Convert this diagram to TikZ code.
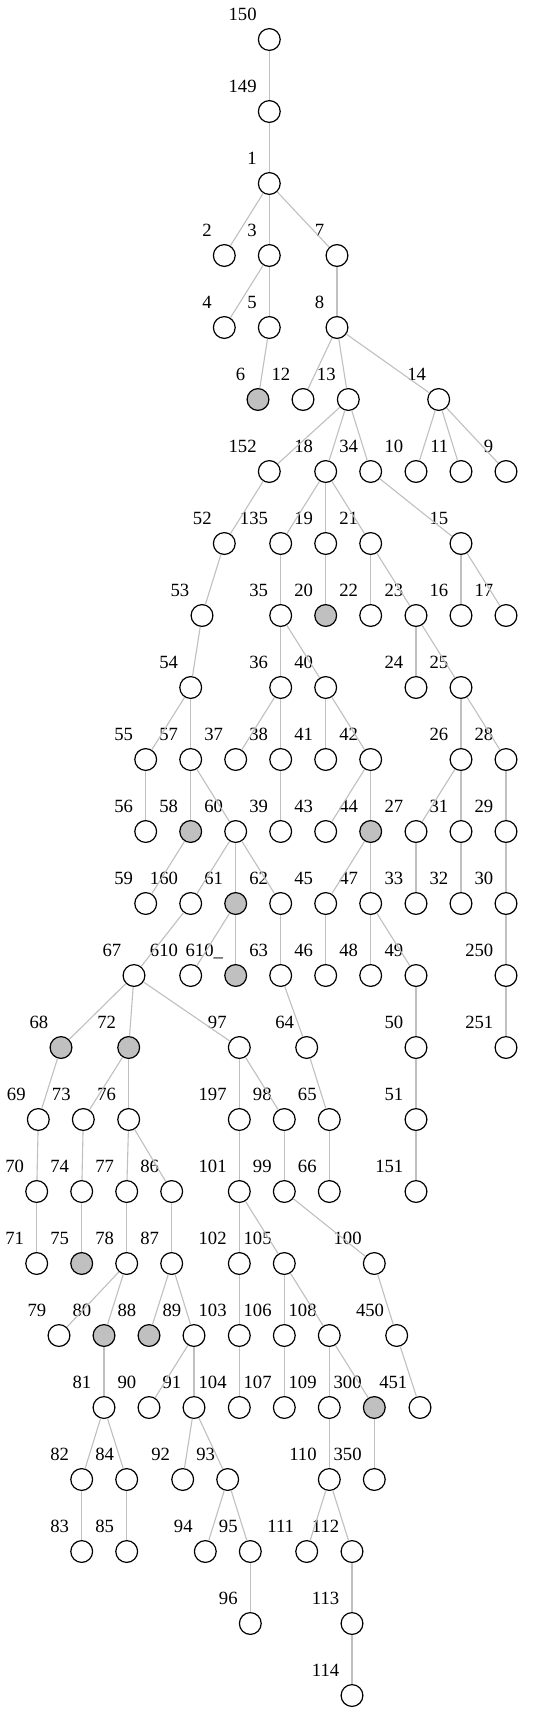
\documentclass[tikz,border=0pt]{standalone}
\usepackage{fontspec}
\setmainfont{Liberation Serif}
\definecolor{edgec}{RGB}{192,192,192}
\definecolor{nodegray}{RGB}{192,192,192}
\tikzset{
  vtx/.style={circle, draw=black, line width=1.2pt, minimum size=21.8pt, inner sep=0pt},
  lbl/.style={anchor=base east, inner sep=0pt, font=\fontsize{18.67}{22}\selectfont},
  edge/.style={draw=edgec, line width=1.1pt}
}
\newcommand\tn[5]{%
  \node[vtx, fill=#5] (n#1) at (#2, {39.5+72*#3}) {};
  \node[lbl] (l#1) at ([xshift=-12.5pt, yshift=18.7pt]n#1.center) {#4};
}
\begin{document}
\begin{tikzpicture}[x=1pt, y=-1pt]
\useasboundingbox[fill=white] (0,0) rectangle (556,1713);
% rows 0-4
\tn{150}{269.3}{0}{150}{white}
\tn{149}{269.3}{1}{149}{white}
\tn{1}{269.3}{2}{1}{white}
\tn{2}{224.3}{3}{2}{white}
\tn{3}{269.3}{3}{3}{white}
\tn{7}{337}{3}{7}{white}
\tn{4}{224.3}{4}{4}{white}
\tn{5}{269.3}{4}{5}{white}
\tn{8}{337}{4}{8}{white}
% row 5
\tn{6}{258}{5}{6}{nodegray}
\tn{12}{303}{5}{12}{white}
\tn{13}{348.3}{5}{13}{white}
\tn{14}{438.7}{5}{14}{white}
% row 6
\tn{152}{269.3}{6}{152}{white}
\tn{18}{325.7}{6}{18}{white}
\tn{34}{370.7}{6}{34}{white}
\tn{10}{416}{6}{10}{white}
\tn{11}{461}{6}{11}{white}
\tn{9}{506}{6}{9}{white}
% row 7
\tn{52}{224.3}{7}{52}{white}
\tn{135}{280.7}{7}{135}{white}
\tn{19}{325.7}{7}{19}{white}
\tn{21}{370.7}{7}{21}{white}
\tn{15}{461}{7}{15}{white}
% row 8
\tn{53}{202}{8}{53}{white}
\tn{35}{280.7}{8}{35}{white}
\tn{20}{325.7}{8}{20}{nodegray}
\tn{22}{370.7}{8}{22}{white}
\tn{23}{416}{8}{23}{white}
\tn{16}{461}{8}{16}{white}
\tn{17}{506}{8}{17}{white}
% row 9
\tn{54}{190.7}{9}{54}{white}
\tn{36}{280.7}{9}{36}{white}
\tn{40}{325.7}{9}{40}{white}
\tn{24}{416}{9}{24}{white}
\tn{25}{461}{9}{25}{white}
% row 10
\tn{55}{145.7}{10}{55}{white}
\tn{57}{190.7}{10}{57}{white}
\tn{37}{235.7}{10}{37}{white}
\tn{38}{280.7}{10}{38}{white}
\tn{41}{325.7}{10}{41}{white}
\tn{42}{370.7}{10}{42}{white}
\tn{26}{461}{10}{26}{white}
\tn{28}{506}{10}{28}{white}
% row 11
\tn{56}{145.7}{11}{56}{white}
\tn{58}{190.7}{11}{58}{nodegray}
\tn{60}{235.7}{11}{60}{white}
\tn{39}{280.7}{11}{39}{white}
\tn{43}{325.7}{11}{43}{white}
\tn{44}{370.7}{11}{44}{nodegray}
\tn{27}{416}{11}{27}{white}
\tn{31}{461}{11}{31}{white}
\tn{29}{506}{11}{29}{white}
% row 12
\tn{59}{145.7}{12}{59}{white}
\tn{160}{190.7}{12}{160}{white}
\tn{61}{235.7}{12}{61}{nodegray}
\tn{62}{280.7}{12}{62}{white}
\tn{45}{325.7}{12}{45}{white}
\tn{47}{370.7}{12}{47}{white}
\tn{33}{416}{12}{33}{white}
\tn{32}{461}{12}{32}{white}
\tn{30}{506}{12}{30}{white}
% row 13
\tn{67}{134}{13}{67}{white}
\tn{610}{190.7}{13}{610}{white}
\tn{610u}{235.7}{13}{610\_}{nodegray}
\tn{63}{280.7}{13}{63}{white}
\tn{46}{325.7}{13}{46}{white}
\tn{48}{370.7}{13}{48}{white}
\tn{49}{416}{13}{49}{white}
\tn{250}{506}{13}{250}{white}
% row 14
\tn{68}{61}{14}{68}{nodegray}
\tn{72}{128.7}{14}{72}{nodegray}
\tn{97}{239.3}{14}{97}{white}
\tn{64}{306.7}{14}{64}{white}
\tn{50}{416}{14}{50}{white}
\tn{251}{506}{14}{251}{white}
% row 15
\tn{69}{38.3}{15}{69}{white}
\tn{73}{83.3}{15}{73}{white}
\tn{76}{128.7}{15}{76}{white}
\tn{197}{239.3}{15}{197}{white}
\tn{98}{284.3}{15}{98}{white}
\tn{65}{329.3}{15}{65}{white}
\tn{51}{416}{15}{51}{white}
% row 16
\tn{70}{36.7}{16}{70}{white}
\tn{74}{81.7}{16}{74}{white}
\tn{77}{126.7}{16}{77}{white}
\tn{86}{171.7}{16}{86}{white}
\tn{101}{239.3}{16}{101}{white}
\tn{99}{284.3}{16}{99}{white}
\tn{66}{329.3}{16}{66}{white}
\tn{151}{416}{16}{151}{white}
% row 17
\tn{71}{36.7}{17}{71}{white}
\tn{75}{81.7}{17}{75}{nodegray}
\tn{78}{126.7}{17}{78}{white}
\tn{87}{171.7}{17}{87}{white}
\tn{102}{239.3}{17}{102}{white}
\tn{105}{284.3}{17}{105}{white}
\tn{100}{374.3}{17}{100}{white}
% row 18
\tn{79}{59}{18}{79}{white}
\tn{80}{104}{18}{80}{nodegray}
\tn{88}{149}{18}{88}{nodegray}
\tn{89}{194}{18}{89}{white}
\tn{103}{239.3}{18}{103}{white}
\tn{106}{284.3}{18}{106}{white}
\tn{108}{329.3}{18}{108}{white}
\tn{450}{396.7}{18}{450}{white}
% row 19
\tn{81}{104}{19}{81}{white}
\tn{90}{149}{19}{90}{white}
\tn{91}{194}{19}{91}{white}
\tn{104}{239.3}{19}{104}{white}
\tn{107}{284.3}{19}{107}{white}
\tn{109}{329.3}{19}{109}{white}
\tn{300}{374.3}{19}{300}{nodegray}
\tn{451}{420}{19}{451}{white}
% row 20
\tn{82}{81.7}{20}{82}{white}
\tn{84}{126.7}{20}{84}{white}
\tn{92}{182.7}{20}{92}{white}
\tn{93}{227.7}{20}{93}{white}
\tn{110}{329.3}{20}{110}{white}
\tn{350}{374.3}{20}{350}{white}
% row 21
\tn{83}{81.7}{21}{83}{white}
\tn{85}{126.7}{21}{85}{white}
\tn{94}{205.3}{21}{94}{white}
\tn{95}{250.3}{21}{95}{white}
\tn{111}{306.7}{21}{111}{white}
\tn{112}{352}{21}{112}{white}
% rows 22-23
\tn{96}{250.3}{22}{96}{white}
\tn{113}{352}{22}{113}{white}
\tn{114}{352}{23}{114}{white}
% edges
\foreach \a/\b in {150/149, 149/1, 1/2, 1/3, 1/7, 3/4, 3/5, 7/8, 5/6, 8/12, 8/13, 8/14,
  13/152, 13/18, 13/34, 14/10, 14/11, 14/9,
  152/52, 18/135, 18/19, 18/21, 34/15,
  52/53, 135/35, 19/20, 21/22, 21/23, 15/16, 15/17,
  53/54, 35/36, 35/40, 23/24, 23/25,
  54/55, 54/57, 36/37, 36/38, 40/41, 40/42, 25/26, 25/28,
  55/56, 57/58, 57/60, 38/39, 42/43, 42/44, 26/27, 26/31, 28/29,
  58/59, 60/160, 60/61, 60/62, 44/45, 44/47, 27/33, 31/32, 29/30,
  160/67, 61/610, 61/610u, 62/63, 45/46, 47/48, 47/49, 30/250,
  67/68, 67/72, 67/97, 63/64, 49/50, 250/251,
  68/69, 72/73, 72/76, 97/197, 97/98, 64/65, 50/51,
  69/70, 73/74, 76/77, 76/86, 197/101, 98/99, 65/66, 51/151,
  70/71, 74/75, 77/78, 86/87, 101/102, 101/105, 99/100,
  78/79, 78/80, 87/88, 87/89, 102/103, 105/106, 105/108, 100/450,
  80/81, 89/90, 89/91, 103/104, 106/107, 108/109, 108/300, 450/451,
  81/82, 81/84, 91/92, 91/93, 109/110, 300/350,
  82/83, 84/85, 93/94, 93/95, 110/111, 110/112,
  95/96, 112/113, 113/114}
  \draw[edge] (n\a) -- (n\b);
\end{tikzpicture}
\end{document}
